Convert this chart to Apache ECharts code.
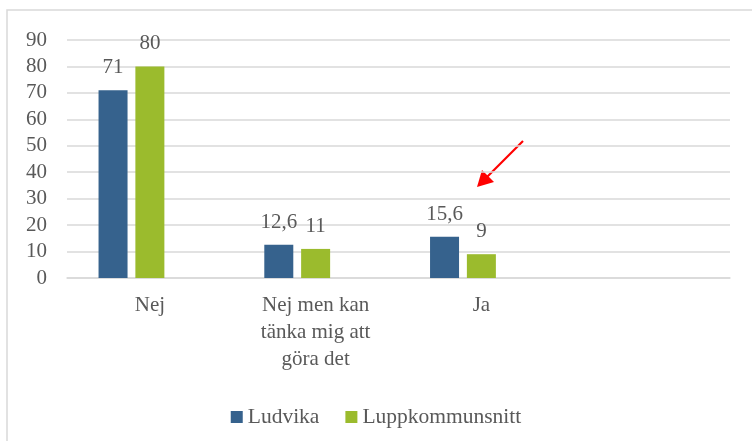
<!DOCTYPE html>
<html>
<head>
<meta charset="utf-8">
<script src="https://cdn.jsdelivr.net/npm/echarts@6/dist/echarts.min.js"></script>
<style>
html,body{margin:0;padding:0;background:#fff;}
#chart{width:752px;height:441px;}
</style>
</head>
<body>
<div id="chart"></div>
<script>
var categories = ['Nej', 'Nej men kan\ntänka mig att\ngöra det', 'Ja', ''];
var ludvika = [71, 12.6, 15.6, null];
var luppkommunsnitt = [80, 11, 9, null];
var emptySeries = [null, null, null, null];
var yTicks = { min: 0, max: 90, interval: 10 };

var FONT = '"Liberation Serif", "Times New Roman", serif';
var TXT = '#595959';
var GRIDC = '#d9d9d9';

function fmt(p) { return String(p.value).replace('.', ','); }

var labelCfg = {
  show: true, position: 'top', distance: 12,
  fontFamily: FONT, fontSize: 21, color: TXT, lineHeight: 21,
  formatter: fmt
};

var chart = echarts.init(document.getElementById('chart'));
chart.setOption({
  animation: false,
  backgroundColor: '#fff',
  grid: { left: 67, right: 22, top: 40, bottom: 163, containLabel: false },
  legend: {
    data: ['Ludvika', 'Luppkommunsnitt'],
    top: 400, left: 'center',
    icon: 'rect', itemWidth: 12, itemHeight: 12, itemGap: 26,
    textStyle: { fontFamily: FONT, fontSize: 21.5, color: TXT, lineHeight: 24, padding: [0, 0, 0, 0] }
  },
  xAxis: {
    type: 'category',
    data: categories,
    axisLine: { show: true, lineStyle: { color: GRIDC, width: 1.5 } },
    axisTick: { show: false },
    axisLabel: { interval: 0, margin: 14, fontFamily: FONT, fontSize: 21, color: TXT, lineHeight: 27 }
  },
  yAxis: {
    type: 'value',
    min: yTicks.min, max: yTicks.max, interval: yTicks.interval,
    axisLine: { show: false },
    axisTick: { show: false },
    splitLine: { lineStyle: { color: GRIDC, width: 1.5 } },
    axisLabel: { margin: 20, fontFamily: FONT, fontSize: 21, color: TXT }
  },
  series: [
    { name: 'Ludvika', type: 'bar', data: ludvika, barWidth: 29, barGap: '27%',
      itemStyle: { color: '#36628D' }, label: labelCfg },
    { name: 'Luppkommunsnitt', type: 'bar', data: luppkommunsnitt, barWidth: 29, barGap: '27%',
      itemStyle: { color: '#9BBB2D' }, label: labelCfg },
    { name: ' ', type: 'bar', data: emptySeries, barWidth: 29, barGap: '27%',
      itemStyle: { color: 'transparent' } }
  ],
  graphic: [
    { type: 'rect', shape: { x: 7, y: 10, width: 800, height: 500 },
      style: { fill: 'none', stroke: GRIDC, lineWidth: 1.5 }, silent: true, z: -1 },
    { type: 'line', shape: { x1: 523, y1: 141, x2: 487, y2: 177 },
      style: { stroke: '#ff0000', lineWidth: 2.2 }, silent: true },
    { type: 'polygon', shape: { points: [[477, 187], [482, 170], [494, 182]] },
      style: { fill: '#ff0000' }, silent: true }
  ]
});
</script>
</body>
</html>
